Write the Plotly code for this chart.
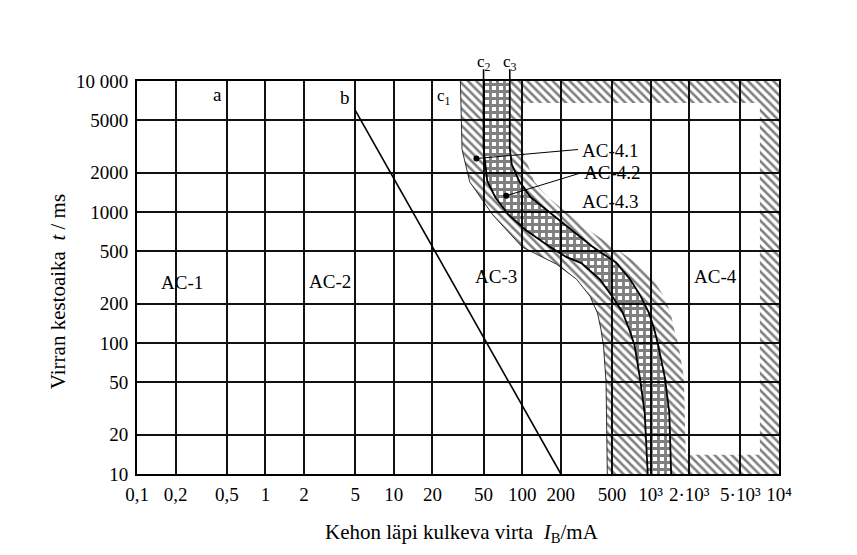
import numpy as np
import plotly.graph_objects as go

# ---------------- data ----------------
x_ticks = [0.1, 0.2, 0.5, 1, 2, 5, 10, 20, 50, 100, 200, 500, 1000, 2000, 5000, 10000]
x_ticktext = ["0,1", "0,2", "0,5", "1", "2", "5", "10", "20", "50", "100", "200", "500",
              "10³", "2·10³", "5·10³", "10⁴"]
y_ticks = [10, 20, 50, 100, 200, 500, 1000, 2000, 5000, 10000]
y_ticktext = ["10", "20", "50", "100", "200", "500", "1000", "2000", "5000", "10 000"]

# line b (current mA, time ms)
b_I = [5, 200]
b_t = [6000, 10]

# curve c1 (left edge of AC-4.1 band)
c1_I = [33, 34, 39, 59, 100, 185, 265, 338, 386, 410, 430, 450, 460]
c1_t = [10000, 3000, 1700, 950, 540, 400, 307, 227, 169, 128, 94, 50, 10]

# curve c2
c2_I = [50, 50, 53.5, 62, 78, 107, 165, 220, 289, 401, 501, 604, 678, 750, 826, 900, 950]
c2_t = [10000, 3050, 1710, 1285, 957, 726, 540, 454, 407, 308, 228, 172, 129, 96, 54, 29, 10]

# curve c3
c3_I = [80, 80, 83, 95, 116, 168, 242, 349, 541, 688, 828, 964, 1062, 1146, 1294, 1400, 1445]
c3_t = [10000, 3050, 2300, 1710, 1300, 968, 733, 547, 409, 309, 232, 172, 130, 96, 54, 29, 10]

# inner edge of the hatched AC-4.3 border along c3
edge_I = [98, 99, 124, 158, 228, 328, 500, 774, 1038, 1250, 1429, 1517, 1650, 1820, 1890]
edge_t = [10000, 3050, 1710, 1300, 968, 733, 547, 409, 309, 232, 172, 130, 96, 54, 10]

# hatched border of the AC-4 region
frame_top_t = 6800      # lower edge of top band
frame_right_I = 7100    # left edge of right band
frame_bottom_t = 14     # upper edge of bottom band
I_max = 10000
t_max = 10000
t_min = 10

# zone labels
zone_labels = ["AC-1", "AC-2", "AC-3", "AC-4"]
zone_I = [0.226, 3.2, 63, 3210]
zone_t = [290, 295, 320, 324]

sub_labels = ["AC-4.1", "AC-4.2", "AC-4.3"]
sub_I = [284, 290, 284]
sub_t = [2950, 2000, 1200]

# leader lines (text end -> marked point)
lead1_I = [272, 44]
lead1_t = [3000, 2560]
lead2_I = [283, 75]
lead2_t = [1980, 1330]

# ---------------- figure ----------------
SERIF = "Liberation Serif, Times New Roman, serif"
fig = go.Figure()

hatch = dict(shape="\\", size=6, solidity=0.42, fgcolor="black", bgcolor="rgba(0,0,0,0)")
cross = dict(shape="+", size=7, solidity=0.65, fgcolor="black", bgcolor="rgba(0,0,0,0)")

def poly(xs, ys, pattern):
    fig.add_trace(go.Scatter(x=xs, y=ys, mode="lines", fill="toself",
                             fillcolor="rgba(0,0,0,0)", fillpattern=pattern,
                             line=dict(width=0, color="rgba(0,0,0,0)"),
                             hoverinfo="skip", showlegend=False))

# AC-4.1 band between c1 and c2
poly(c1_I + c2_I[::-1], c1_t + c2_t[::-1], hatch)
# AC-4.2 between c2 and c3
poly(c2_I + c3_I[::-1], c2_t + c3_t[::-1], cross)
# AC-4.3 hatched border along c3
poly(c3_I + edge_I[::-1], c3_t + edge_t[::-1], hatch)
# top band
poly([edge_I[0], I_max, I_max, edge_I[0]], [t_max, t_max, frame_top_t, frame_top_t], hatch)
# right band
poly([frame_right_I, I_max, I_max, frame_right_I], [frame_top_t, frame_top_t, t_min, t_min], hatch)
# bottom band
poly([edge_I[-1], frame_right_I, frame_right_I, edge_I[-1]], [t_min, t_min, frame_bottom_t, frame_bottom_t], hatch)

# curves
fig.add_trace(go.Scatter(x=c1_I, y=c1_t, mode="lines", line=dict(color="black", width=0.8),
                         showlegend=False, hoverinfo="skip"))
fig.add_trace(go.Scatter(x=c2_I, y=c2_t, mode="lines", line=dict(color="black", width=1.8),
                         showlegend=False, hoverinfo="skip"))
fig.add_trace(go.Scatter(x=c3_I, y=c3_t, mode="lines", line=dict(color="black", width=1.8),
                         showlegend=False, hoverinfo="skip"))
# line b
fig.add_trace(go.Scatter(x=b_I, y=b_t, mode="lines", line=dict(color="black", width=1.6),
                         showlegend=False, hoverinfo="skip"))
# leaders
for li, lt in [(lead1_I, lead1_t), (lead2_I, lead2_t)]:
    fig.add_trace(go.Scatter(x=li, y=lt, mode="lines", line=dict(color="black", width=1),
                             showlegend=False, hoverinfo="skip"))
    fig.add_trace(go.Scatter(x=[li[-1]], y=[lt[-1]], mode="markers",
                             marker=dict(color="black", size=6), showlegend=False, hoverinfo="skip"))

ann = []
for txt, xi, ti in zip(zone_labels, zone_I, zone_t):
    ann.append(dict(x=np.log10(xi), y=np.log10(ti), text=txt, showarrow=False,
                    font=dict(family=SERIF, size=19, color="black")))
for txt, xi, ti in zip(sub_labels, sub_I, sub_t):
    ann.append(dict(x=np.log10(xi), y=np.log10(ti), text=txt, showarrow=False, xanchor="left",
                    font=dict(family=SERIF, size=19, color="black")))

# curve names
ann.append(dict(x=np.log10(0.426), y=np.log10(7900), text="a", showarrow=False,
                font=dict(family=SERIF, size=19, color="black")))
ann.append(dict(x=np.log10(4.2), y=np.log10(7500), text="b", showarrow=False,
                font=dict(family=SERIF, size=19, color="black")))
ann.append(dict(x=np.log10(24.6), y=np.log10(7500), text="c<sub>1</sub>", showarrow=False,
                font=dict(family=SERIF, size=17, color="black")))
for txt, xi in [("c<sub>2</sub>", c2_I[0]), ("c<sub>3</sub>", c3_I[0])]:
    ann.append(dict(x=np.log10(xi), xref="x", y=1.012, yref="paper", yanchor="bottom",
                    text=txt, showarrow=False,
                    font=dict(family=SERIF, size=17, color="black")))
    fig.add_shape(type="line", xref="x", yref="paper", x0=xi, x1=xi, y0=1.0, y1=1.03,
                  line=dict(color="black", width=1.6))

# axis titles
ann.append(dict(x=0.506, y=-0.112, xref="paper", yref="paper", yanchor="top",
                text="Kehon läpi kulkeva virta  <i>I</i><sub>B</sub>/mA", showarrow=False,
                font=dict(family=SERIF, size=21, color="black")))
ann.append(dict(x=-0.145, y=0.465, xref="paper", yref="paper", textangle=-90,
                text="Virran kestoaika  <i>t</i> / ms", showarrow=False,
                font=dict(family=SERIF, size=21, color="black")))

fig.update_layout(
    width=857, height=555,
    margin=dict(l=129, r=86, t=73, b=89),
    paper_bgcolor="white", plot_bgcolor="white",
    showlegend=False,
    annotations=ann,
    font=dict(family=SERIF, size=19, color="black"),
)
fig.update_xaxes(type="log", range=[-1, 4], tickvals=x_ticks, ticktext=x_ticktext,
                 showgrid=True, gridcolor="#111111", gridwidth=1.5,
                 showline=True, mirror=True, linecolor="black", linewidth=1.8,
                 ticks="", ticklabelstandoff=2, zeroline=False,
                 tickfont=dict(family=SERIF, size=19, color="black"))
fig.update_yaxes(type="log", range=[1, 4], tickvals=y_ticks, ticktext=y_ticktext,
                 showgrid=True, gridcolor="#111111", gridwidth=1.5,
                 showline=True, mirror=True, linecolor="black", linewidth=1.8,
                 ticks="", ticklabelstandoff=3, zeroline=False,
                 tickfont=dict(family=SERIF, size=19, color="black"))

fig.write_html("out.html")
